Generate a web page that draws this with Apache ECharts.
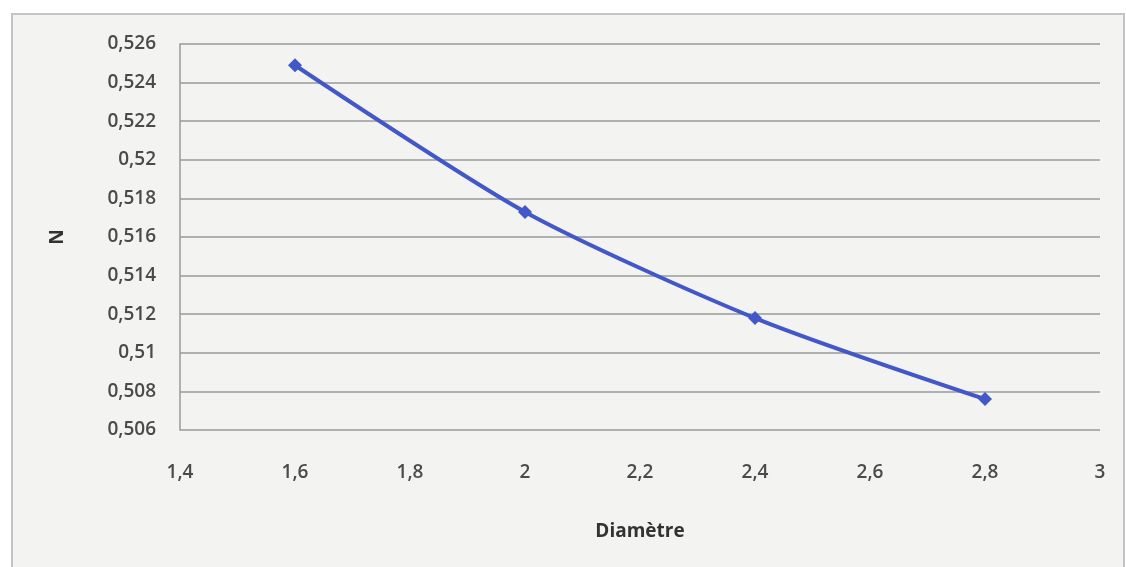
<!DOCTYPE html>
<html>
<head>
<meta charset="utf-8">
<script src="https://cdn.jsdelivr.net/npm/echarts@6/dist/echarts.min.js"></script>
<style>
  html, body { margin: 0; padding: 0; background: #ffffff; }
  #chart { width: 1126px; height: 567px; }
</style>
</head>
<body>
<div id="chart"></div>
<script>
  // values
  const diametre = [1.6, 2, 2.4, 2.8];
  const nValues = [0.5249, 0.5173, 0.5118, 0.5076];

  const fmt = v => String(+v.toFixed(3)).replace(".", ",");

  const chart = echarts.init(document.getElementById("chart"));
  chart.setOption({
    animation: false,
    backgroundColor: "#ffffff",
    graphic: [{
      type: "rect",
      z: -10,
      shape: { x: 12, y: 14, width: 1112, height: 556 },
      style: { fill: "#f3f3f1", stroke: "#c4c4c4", lineWidth: 2 }
    }],
    grid: { left: 180, right: 26, top: 44, bottom: 137 },
    xAxis: {
      type: "value",
      min: 1.4,
      max: 3,
      interval: 0.2,
      name: "Diamètre",
      nameLocation: "middle",
      nameGap: 92,
      nameTextStyle: { fontFamily: "Open Sans", fontWeight: "bold", fontSize: 19, color: "#333" },
      axisLine: { show: false },
      axisTick: { show: false },
      splitLine: { show: false },
      axisLabel: {
        margin: 33,
        fontFamily: "Open Sans",
        fontSize: 19,
        fontWeight: 600,
        color: "#4a4a4a",
        formatter: fmt
      }
    },
    yAxis: {
      type: "value",
      min: 0.506,
      max: 0.526,
      interval: 0.002,
      name: "N",
      nameLocation: "middle",
      nameRotate: 90,
      nameGap: 113,
      nameTextStyle: { fontFamily: "Open Sans", fontWeight: "bold", fontSize: 19, color: "#333" },
      axisLine: { show: true, lineStyle: { color: "#9a9a9a", width: 1.5 } },
      axisTick: { show: false },
      splitLine: { show: true, lineStyle: { color: "#9a9a9a", width: 1.5 } },
      axisLabel: {
        margin: 24,
        fontFamily: "Open Sans",
        fontSize: 19,
        fontWeight: 600,
        color: "#4a4a4a",
        formatter: fmt
      }
    },
    series: [{
      type: "line",
      data: diametre.map((d, i) => [d, nValues[i]]),
      smooth: 0.25,
      symbol: "diamond",
      symbolSize: 14,
      lineStyle: { color: "#4258c8", width: 4 },
      itemStyle: { color: "#4258c8" }
    }]
  });
</script>
</body>
</html>
